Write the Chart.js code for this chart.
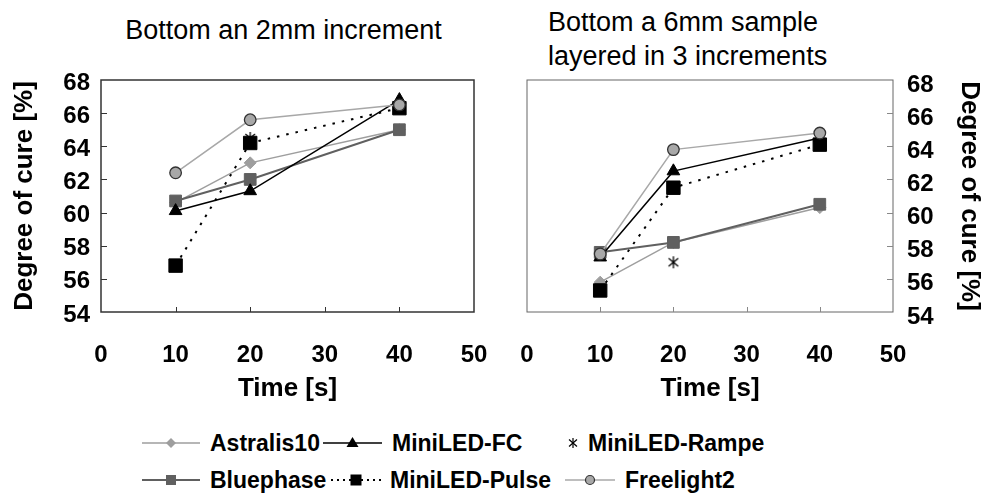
<!DOCTYPE html>
<html>
<head>
<meta charset="utf-8">
<script src="https://cdn.jsdelivr.net/npm/chart.js@4.4.0/dist/chart.umd.min.js"></script>
<style>
    body { margin: 0; background: #fff; width: 987px; height: 493px; position: relative; overflow: hidden;
           font-family: "Liberation Sans", Arial, sans-serif; color: #000; }
    canvas { position: absolute; top: 0; }
    #leftChart { left: 0; }
    #rightChart { left: 500px; }
    .title { position: absolute; font-size: 27px; line-height: 34px; white-space: nowrap; }
    .leg-text { position: absolute; font-size: 23px; font-weight: bold; line-height: 26px; white-space: nowrap; }
    .leg-icon { position: absolute; }
</style>
</head>
<body>
<div class="title" style="left:0; width:567px; top:13px; text-align:center;">Bottom an 2mm increment</div>
<div class="title" style="left:548px; top:5px;">Bottom a 6mm sample<br>layered in 3 increments</div>
<canvas id="leftChart" width="500" height="420"></canvas>
<canvas id="rightChart" width="487" height="420"></canvas>
<div id="legend"></div>
<script>
// 時間 (s)
const times = [10, 20, 40];
const xTicks = [0, 10, 20, 30, 40, 50];
const yTicks = [54, 56, 58, 60, 62, 64, 66, 68];

// 左: Bottom an 2mm increment
const leftAstralis = [60.6, 63.0, 65.0];
const leftBluephase = [60.7, 62.0, 65.0];
const leftFC = [60.1, 61.3, 66.8];
const leftPulse = [56.8, 64.2, 66.3];
const leftRampe = [null, 64.5, null];
const leftFreelight = [62.4, 65.6, 66.5];

// 右: Bottom a 6mm sample layered in 3 increments
const rightAstralis = [55.8, 58.2, 60.3];
const rightBluephase = [57.6, 58.2, 60.5];
const rightFC = [57.3, 62.5, 64.5];
const rightPulse = [55.3, 61.5, 64.1];
const rightRampe = [null, 57.0, null];
const rightFreelight = [57.5, 63.8, 64.8];

// アスタリスク型マーカー
function makeAsterisk(size) {
    const c = document.createElement('canvas');
    c.width = size;
    c.height = size;
    const g = c.getContext('2d');
    const m = size / 2, r = size / 2 - 1;
    g.strokeStyle = '#000';
    g.lineWidth = 1.3;
    g.beginPath();
    g.moveTo(m, m - r); g.lineTo(m, m + r);
    g.moveTo(m - r * 0.8, m - r * 0.65); g.lineTo(m + r * 0.8, m + r * 0.65);
    g.moveTo(m - r * 0.8, m + r * 0.65); g.lineTo(m + r * 0.8, m - r * 0.65);
    g.stroke();
    return c;
}
const asterisk = makeAsterisk(14);

const styles = {
    astralis: { label: 'Astralis10', color: '#9e9e9e', pointStyle: 'rectRot', radius: 6, width: 1.5, order: 5 },
    bluephase: { label: 'Bluephase', color: '#606060', pointStyle: 'rect', radius: 8.3, width: 2, order: 4 },
    fc: { label: 'MiniLED-FC', color: '#000', pointStyle: 'triangle', radius: 7.3, width: 1.5, order: 1 },
    pulse: { label: 'MiniLED-Pulse', color: '#000', pointStyle: 'rect', radius: 9.5, width: 2, dash: [2.5, 7], order: 2 },
    rampe: { label: 'MiniLED-Rampe', color: '#000', pointStyle: asterisk, radius: 7, width: 0, noLine: true, order: 3 },
    freelight: { label: 'Freelight2', color: '#a8a8a8', pointStyle: 'circle', radius: 5.8, width: 1.5, pointBorder: '#333', order: 0 }
};

function toPoints(values) {
    return times.map((t, i) => ({ x: t, y: values[i] }));
}

function makeDataset(s, values) {
    return {
        label: s.label,
        data: toPoints(values),
        borderColor: s.color,
        backgroundColor: s.color,
        borderWidth: s.width,
        borderDash: s.dash || [],
        showLine: !s.noLine,
        pointStyle: s.pointStyle,
        pointRadius: s.radius,
        pointBackgroundColor: s.color,
        pointBorderColor: s.pointBorder || s.color,
        pointBorderWidth: s.pointBorder ? 1.3 : 1,
        tension: 0,
        spanGaps: false,
        order: s.order
    };
}

// 枠と内向きの目盛り
const frameAndTicks = {
    id: 'frameAndTicks',
    beforeDatasetsDraw(chart, args, opts) {
        const { ctx, chartArea: a, scales } = chart;
        ctx.save();
        ctx.strokeStyle = opts.color;
        ctx.lineWidth = opts.width;
        ctx.strokeRect(a.left, a.top, a.right - a.left, a.bottom - a.top);
        ctx.strokeStyle = opts.tickColor;
        ctx.lineWidth = 1;
        ctx.beginPath();
        scales.x.ticks.forEach(t => {
            if (t.value <= 0 || t.value >= 50) return;
            const px = Math.round(scales.x.getPixelForValue(t.value)) + 0.5;
            ctx.moveTo(px, a.bottom);
            ctx.lineTo(px, a.bottom - 5);
        });
        scales.y.ticks.forEach(t => {
            if (t.value <= 54 || t.value >= 68) return;
            const py = Math.round(scales.y.getPixelForValue(t.value)) + 0.5;
            const x0 = opts.ySide === 'left' ? a.left : a.right;
            const dir = opts.ySide === 'left' ? 1 : -1;
            ctx.moveTo(x0, py);
            ctx.lineTo(x0 + dir * 6, py);
        });
        ctx.stroke();
        ctx.restore();
    }
};

const tickFont = { family: '"Liberation Sans", Arial, sans-serif', size: 24, weight: 'bold' };
const titleFont = { family: '"Liberation Sans", Arial, sans-serif', size: 26, weight: 'bold' };

function makeChart(id, vals, side) {
    const ctx = document.getElementById(id).getContext('2d');
    const isLeft = side === 'left';
    return new Chart(ctx, {
        type: 'line',
        data: {
            datasets: [
                makeDataset(styles.astralis, vals.astralis),
                makeDataset(styles.fc, vals.fc),
                makeDataset(styles.rampe, vals.rampe),
                makeDataset(styles.bluephase, vals.bluephase),
                makeDataset(styles.pulse, vals.pulse),
                makeDataset(styles.freelight, vals.freelight)
            ]
        },
        options: {
            responsive: false,
            animation: false,
            layout: {
                padding: isLeft ? { top: 80, right: 26, left: 0, bottom: 0 } : { top: 80, left: 27, right: 0, bottom: 0 }
            },
            scales: {
                x: {
                    type: 'linear',
                    min: 0,
                    max: 50,
                    afterBuildTicks: scale => { scale.ticks = xTicks.map(v => ({ value: v })); },
                    afterFit: scale => {
                        scale.height = 108;
                        scale.paddingLeft = 0;
                        scale.paddingRight = 0;
                    },
                    grid: { display: false, drawTicks: false },
                    border: { display: false },
                    ticks: { font: tickFont, color: '#000', padding: 29, maxRotation: 0 },
                    title: { display: true, text: 'Time [s]', font: titleFont, color: '#000', padding: { top: 0, bottom: 16 } }
                },
                y: {
                    position: side,
                    min: 54,
                    max: 68,
                    afterBuildTicks: scale => { scale.ticks = yTicks.map(v => ({ value: v })); },
                    afterFit: scale => {
                        scale.width = isLeft ? 101 : 94;
                        scale.paddingTop = 0;
                        scale.paddingBottom = 0;
                    },
                    grid: { display: false, drawTicks: false },
                    border: { display: false },
                    ticks: { font: tickFont, color: '#000', padding: isLeft ? 11 : 14, labelOffset: isLeft ? 3 : 5 },
                    title: { display: true, text: 'Degree of cure [%]', font: titleFont, color: '#000', padding: { top: isLeft ? 9 : 2, bottom: 0 } }
                }
            },
            plugins: {
                legend: { display: false },
                tooltip: { enabled: false },
                frameAndTicks: {
                    color: isLeft ? '#333' : '#666',
                    width: isLeft ? 1.5 : 1,
                    tickColor: isLeft ? '#333' : '#888',
                    ySide: side
                }
            }
        },
        plugins: [frameAndTicks]
    });
}

makeChart('leftChart', {
    astralis: leftAstralis, bluephase: leftBluephase, fc: leftFC,
    pulse: leftPulse, rampe: leftRampe, freelight: leftFreelight
}, 'left');

makeChart('rightChart', {
    astralis: rightAstralis, bluephase: rightBluephase, fc: rightFC,
    pulse: rightPulse, rampe: rightRampe, freelight: rightFreelight
}, 'right');

// 凡例 (2行3列)
const legendItems = [
    { s: styles.astralis, lineX: 142, lineW: 58, textX: 210, cy: 443 },
    { s: styles.fc, lineX: 323, lineW: 59, textX: 392, cy: 443 },
    { s: styles.rampe, lineX: 560, lineW: 26, textX: 588, cy: 443 },
    { s: styles.bluephase, lineX: 142, lineW: 58, textX: 210, cy: 480 },
    { s: styles.pulse, lineX: 331, lineW: 50, textX: 390, cy: 480 },
    { s: styles.freelight, lineX: 565, lineW: 50, textX: 625, cy: 480 }
];

function iconSvg(s, w) {
    const h = 20, m = h / 2, c = w / 2;
    let line = '';
    if (!s.noLine) {
        const dash = s.dash ? ` stroke-dasharray="2,4"` : '';
        line = `<line x1="0" y1="${m}" x2="${w}" y2="${m}" stroke="${s.color}" stroke-width="${s.width}"${dash}/>`;
    }
    let mark = '';
    if (s.pointStyle === 'rectRot') {
        mark = `<polygon points="${c},${m - 5} ${c + 5},${m} ${c},${m + 5} ${c - 5},${m}" fill="${s.color}"/>`;
    } else if (s.pointStyle === 'rect') {
        const r = s.dash ? 5.5 : 5;
        mark = `<rect x="${c - r}" y="${m - r}" width="${2 * r}" height="${2 * r}" fill="${s.color}"/>`;
    } else if (s.pointStyle === 'triangle') {
        mark = `<polygon points="${c},${m - 6} ${c + 6},${m + 4} ${c - 6},${m + 4}" fill="${s.color}"/>`;
    } else if (s.pointStyle === 'circle') {
        mark = `<circle cx="${c}" cy="${m}" r="4.5" fill="${s.color}" stroke="${s.pointBorder}" stroke-width="1.2"/>`;
    } else {
        mark = `<g stroke="#000" stroke-width="1.2"><line x1="${c}" y1="${m - 5}" x2="${c}" y2="${m + 5}"/>` +
            `<line x1="${c - 4}" y1="${m - 3.5}" x2="${c + 4}" y2="${m + 3.5}"/>` +
            `<line x1="${c - 4}" y1="${m + 3.5}" x2="${c + 4}" y2="${m - 3.5}"/></g>`;
    }
    return `<svg width="${w}" height="${h}" xmlns="http://www.w3.org/2000/svg">${line}${mark}</svg>`;
}

const legend = document.getElementById('legend');
legendItems.forEach(item => {
    const icon = document.createElement('div');
    icon.className = 'leg-icon';
    icon.style.left = item.lineX + 'px';
    icon.style.top = (item.cy - 10) + 'px';
    icon.innerHTML = iconSvg(item.s, item.lineW);
    legend.appendChild(icon);
    const text = document.createElement('div');
    text.className = 'leg-text';
    text.style.left = item.textX + 'px';
    text.style.top = (item.cy - 13) + 'px';
    text.textContent = item.s.label;
    legend.appendChild(text);
});
</script>
</body>
</html>
